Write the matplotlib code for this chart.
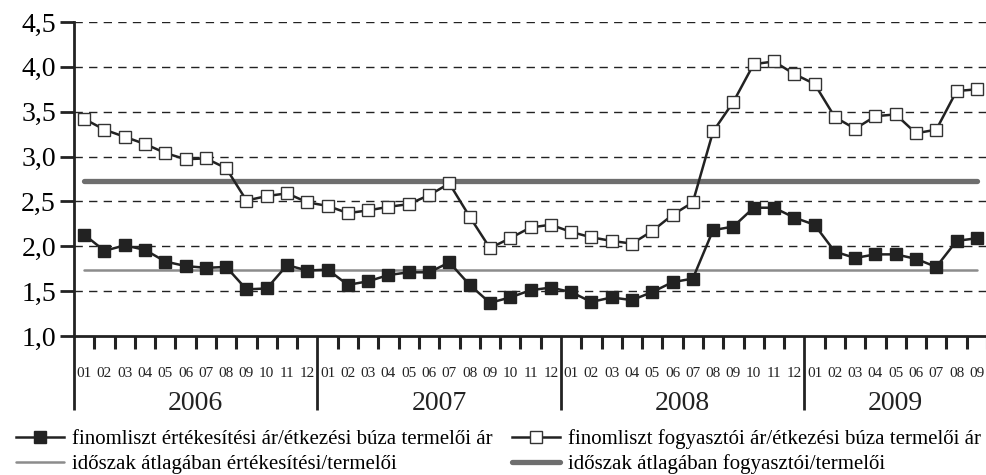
import numpy as np
import matplotlib
matplotlib.use("Agg")
import matplotlib.pyplot as plt
import matplotlib.transforms as mtransforms

plt.rcParams['font.family'] = ['Liberation Serif', 'DejaVu Serif']

# monthly data 2006-01 .. 2009-09
years = ['2006', '2007', '2008', '2009']
months = ['01', '02', '03', '04', '05', '06', '07', '08', '09', '10', '11', '12']
n_months = 45

# finomliszt értékesítési ár / étkezési búza termelői ár
ertekesitesi = [2.13, 1.95, 2.01, 1.96, 1.83, 1.78, 1.76, 1.77, 1.52, 1.53, 1.79, 1.73,
                1.74, 1.57, 1.61, 1.68, 1.71, 1.71, 1.82, 1.57, 1.37, 1.43, 1.51, 1.54,
                1.49, 1.38, 1.43, 1.40, 1.49, 1.60, 1.64, 2.18, 2.22, 2.43, 2.43, 2.32,
                2.24, 1.94, 1.87, 1.91, 1.91, 1.86, 1.77, 2.06, 2.09]
# finomliszt fogyasztói ár / étkezési búza termelői ár
fogyasztoi = [3.42, 3.30, 3.22, 3.14, 3.04, 2.97, 2.98, 2.87, 2.51, 2.56, 2.59, 2.49,
              2.45, 2.37, 2.40, 2.44, 2.47, 2.57, 2.70, 2.33, 1.98, 2.09, 2.21, 2.24,
              2.16, 2.10, 2.06, 2.03, 2.17, 2.35, 2.49, 3.28, 3.61, 4.03, 4.06, 3.92,
              3.81, 3.44, 3.31, 3.45, 3.47, 3.26, 3.30, 3.73, 3.75]
atlag_ertekesitesi = 1.74
atlag_fogyasztoi = 2.73

labels = ['finomliszt értékesítési ár/étkezési búza termelői ár',
          'időszak átlagában értékesítési/termelői',
          'finomliszt fogyasztói ár/étkezési búza termelői ár',
          'időszak átlagában fogyasztói/termelői']

x = np.arange(n_months)

fig = plt.figure(figsize=(9.87, 4.75), dpi=100)
ax = fig.add_axes([0.075, 0.2926, 0.925, 0.6611])

# grid
for g in [1.5, 2.0, 2.5, 3.0, 3.5, 4.0, 4.5]:
    ax.axhline(g, color='#222222', lw=1.0, ls=(0, (6, 4.5)), zorder=1)

h1, = ax.plot(x, ertekesitesi, color='#222222', lw=1.8, marker='s', ms=8.5,
              mfc='#222222', mec='#222222', zorder=4)
h2, = ax.plot(x, fogyasztoi, color='#222222', lw=1.8, marker='s', ms=8.5,
              mfc='white', mec='#333333', mew=1.0, zorder=4)
h3, = ax.plot([x[0], x[-1]], [atlag_ertekesitesi] * 2, color='#8c8c8c', lw=1.8,
              solid_capstyle='round', zorder=3)
h4, = ax.plot([x[0], x[-1]], [atlag_fogyasztoi] * 2, color='#6e6e6e', lw=3.8,
              solid_capstyle='round', zorder=3)

ax.set_xlim(-0.5, 44.25)
ax.set_ylim(1.0, 4.5)
ax.set_yticks([1.0, 1.5, 2.0, 2.5, 3.0, 3.5, 4.0, 4.5])
ax.set_yticklabels(['1,0', '1,5', '2,0', '2,5', '3,0', '3,5', '4,0', '4,5'])
ax.tick_params(axis='y', direction='out', length=10, width=2, labelsize=20,
               pad=3, color='#222222')

for s in ['top', 'right']:
    ax.spines[s].set_visible(False)
for s in ['left', 'bottom']:
    ax.spines[s].set_linewidth(2)
    ax.spines[s].set_color('#222222')

# x axis: year dividers as long major ticks, month boundaries as minor ticks
year_bounds = [-0.5 + 12 * i for i in range(len(years))]
month_bounds = [b + 0.5 for b in range(n_months) if (b + 1) % 12 != 0]
ax.set_xticks(year_bounds)
ax.set_xticklabels([])
ax.set_xticks(month_bounds, minor=True)
ax.tick_params(axis='x', which='major', direction='out', length=53, width=2,
               color='#222222')
ax.tick_params(axis='x', which='minor', direction='out', length=9, width=2.2,
               color='#222222')

trans = mtransforms.blended_transform_factory(ax.transData, ax.transAxes)
off_m = mtransforms.offset_copy(trans, fig=fig, y=-37, units='dots')
off_y = mtransforms.offset_copy(trans, fig=fig, y=-67, units='dots')
for i in range(n_months):
    ax.text(i, 0, months[i % 12], transform=off_m, ha='center', va='center',
            fontsize=11, color='#222222')
for k, yr in enumerate(years):
    start = 12 * k
    end = min(12 * k + 11, n_months - 1)
    ax.text((start + end) / 2, 0, yr, transform=off_y, ha='center', va='center',
            fontsize=20, color='#222222')

fig.legend([h1, h3, h2, h4], labels, ncol=2, loc='upper left',
           bbox_to_anchor=(0.012, 0.105), frameon=False, fontsize=15,
           handlelength=2.3, handletextpad=0.4, labelspacing=0.25,
           columnspacing=0.9, numpoints=1, markerscale=1.0,
           borderaxespad=0, borderpad=0.2)

fig.savefig('out.png', dpi=100)
